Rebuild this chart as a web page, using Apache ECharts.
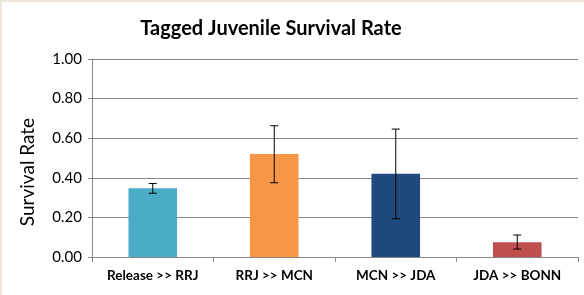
<!DOCTYPE html>
<html>
<head>
<meta charset="utf-8">
<script src="https://cdn.jsdelivr.net/npm/echarts@6/dist/echarts.min.js"></script>
<style>
  html, body { margin: 0; padding: 0; background: #efe7dc; }
  #chart { position: absolute; left: 2px; top: 2px; width: 582px; height: 293px; background: #fff; }
</style>
</head>
<body>
<div id="chart"></div>
<script>
// data
const categories = ['Release >> RRJ', 'RRJ >> MCN', 'MCN >> JDA', 'JDA >> BONN']
const survival = [0.347, 0.52, 0.42, 0.075]
const errLow = [0.322, 0.375, 0.193, 0.040]
const errHigh = [0.371, 0.663, 0.646, 0.111]
const barColors = ['#4bacc6', '#f79646', '#1f497d', '#c0504d']

const font = 'Lato, "Open Sans", sans-serif'
const chart = echarts.init(document.getElementById('chart'))

const errorData = categories.map((c, i) => [i, errLow[i], errHigh[i]])

chart.setOption({
  animation: false,
  title: {
    text: 'Tagged Juvenile Survival Rate',
    left: 264, top: 12, textAlign: 'center',
    textStyle: { fontFamily: font, fontWeight: 'bold', fontSize: 20, color: '#000' }
  },
  graphic: [{
    type: 'text', x: 26, y: 170, rotation: Math.PI / 2,
    style: { text: 'Survival Rate', fontFamily: font, fontSize: 19, fill: '#000',
      textAlign: 'center', textVerticalAlign: 'middle' }
  }],
  grid: { left: 90, right: 6, top: 57, bottom: 38 },
  xAxis: {
    type: 'category', data: categories,
    axisLine: { lineStyle: { color: '#878787' } },
    axisTick: { show: true, length: 5, lineStyle: { color: '#878787' } },
    axisLabel: { interval: 0, fontFamily: font, fontWeight: 'bold', fontSize: 13.5, color: '#000', margin: 12 }
  },
  yAxis: {
    type: 'value', min: 0, max: 1, interval: 0.2,
    axisLine: { show: true, lineStyle: { color: '#878787' } },
    axisTick: { show: true, length: 4, lineStyle: { color: '#878787' } },
    splitLine: { lineStyle: { color: '#878787' } },
    axisLabel: { fontFamily: font, fontSize: 15, color: '#000', margin: 10,
      formatter: v => v.toFixed(2) }
  },
  series: [{
    type: 'bar', barWidth: '40%',
    data: survival.map((v, i) => ({ value: v, itemStyle: { color: barColors[i] } }))
  }, {
    type: 'custom',
    data: errorData,
    z: 10,
    renderItem: (params, api) => {
      const x = api.value(0)
      const lo = api.coord([x, api.value(1)])
      const hi = api.coord([x, api.value(2)])
      const cap = 4
      const style = { stroke: '#000', lineWidth: 1 }
      return {
        type: 'group',
        children: [
          { type: 'line', shape: { x1: hi[0], y1: hi[1], x2: lo[0], y2: lo[1] }, style },
          { type: 'line', shape: { x1: hi[0] - cap, y1: hi[1], x2: hi[0] + cap, y2: hi[1] }, style },
          { type: 'line', shape: { x1: lo[0] - cap, y1: lo[1], x2: lo[0] + cap, y2: lo[1] }, style }
        ]
      }
    }
  }]
})
</script>
</body>
</html>
